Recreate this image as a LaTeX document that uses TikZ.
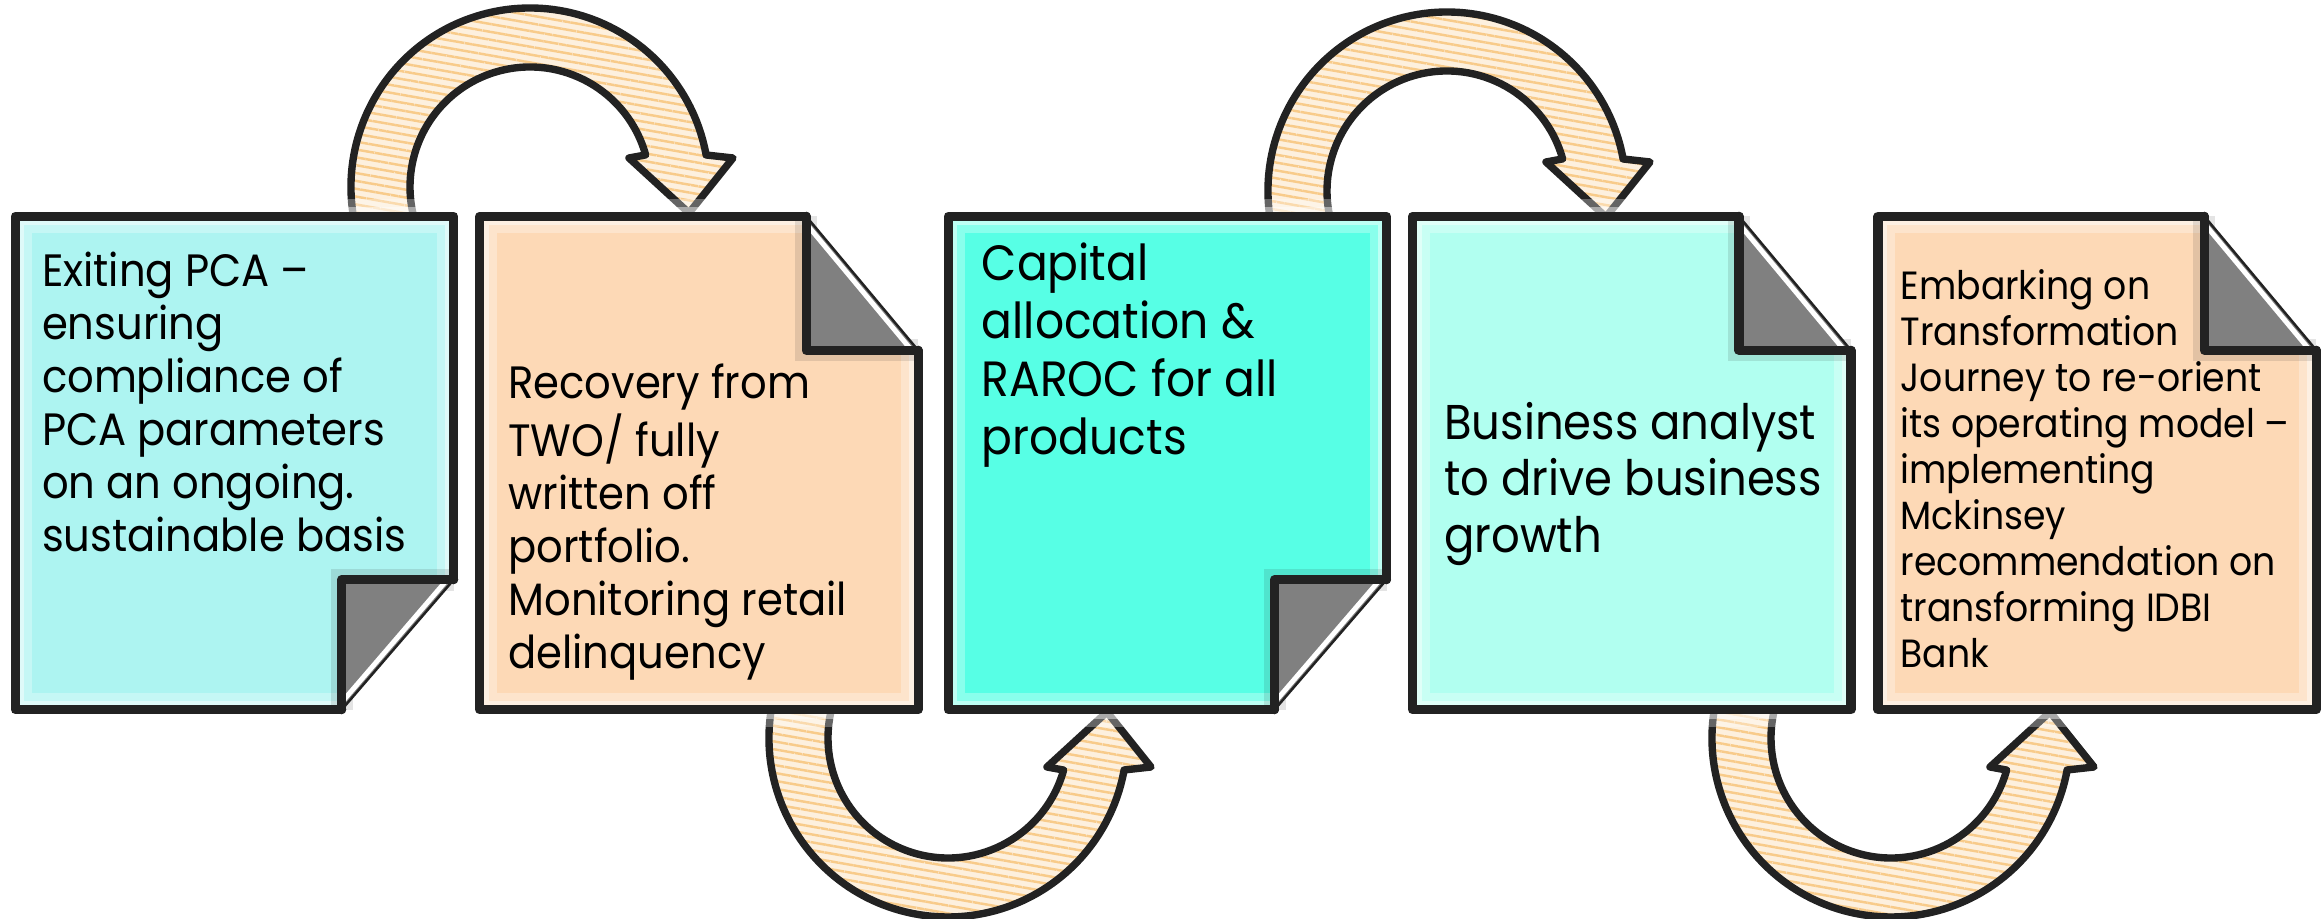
\documentclass[tikz,border=0pt]{standalone}
\usepackage{fontspec}
\setmainfont{Poppins}[FakeStretch=0.92]
\usetikzlibrary{positioning,calc,patterns.meta}

\definecolor{ink}{HTML}{222222}
\definecolor{skyfill}{HTML}{ADF4F1}
\definecolor{peachfill}{HTML}{FDD9B6}
\definecolor{aquafill}{HTML}{57FFE5}
\definecolor{mintfill}{HTML}{B1FFF0}
\definecolor{foldgray}{HTML}{808080}
\definecolor{hatch}{HTML}{F8CB8A}
\definecolor{hatchbg}{HTML}{FDF0DE}

\tikzset{
  note/.style={rectangle, minimum width=4.37cm, minimum height=4.92cm, inner sep=0},
  edge/.style={draw=ink, line width=2.6pt, line join=round, line cap=round},
  txt/.style={align=left, inner sep=0, anchor=west, text=black},
  arrowbody/.style={draw=ink, line width=2.1pt, line join=round,
    preaction={fill=hatchbg},
    pattern={Lines[angle=-10,distance=2.2pt,line width=0.7pt]}, pattern color=hatch},
  looparrow/.pic={
    \path[arrowbody] (195:1.79) arc[start angle=195, end angle=10.3, radius=1.79]
      -- (2.03,0.29) -- (1.59,-0.26) -- (0.99,0.29) -- (15.5:1.20)
      arc[start angle=15.5, end angle=197, radius=1.20] -- cycle;
  }
}

\begin{document}
\begin{tikzpicture}
\useasboundingbox (0,0) rectangle (23.23,-9.19);

% curved arrows between the notes
\pic at (5.30,-1.87) {looparrow};
\pic[yscale=-1] at (9.48,-7.38) {looparrow};
\pic at (14.47,-1.91) {looparrow};
\pic[yscale=-1] at (18.91,-7.38) {looparrow};

% notes
\node[note, fill=skyfill] (b1) at (2.345,-4.63) {};
\node[note, fill=peachfill, right=0.26cm of b1] (b2) {};
\node[note, fill=aquafill, right=0.30cm of b2] (b3) {};
\node[note, fill=mintfill, right=0.26cm of b3] (b4) {};
\node[note, fill=peachfill, right=0.27cm of b4] (b5) {};

% soft edges
\foreach \b in {b1,b2,b3,b4,b5}{
  \draw[white, line width=0.34cm, opacity=0.3] (\b.south west) rectangle (\b.north east);
  \draw[white, line width=0.18cm, opacity=0.45] (\b.south west) rectangle (\b.north east);
}

% folded corner at the bottom
\foreach \b in {b1,b3}{
  \fill[white] (\b.south east) -- ++(-1.12,0) -- ++(1.12,1.30) -- cycle;
  \draw[ink, line width=0.22cm, opacity=0.12] ($(\b.south east)+(-1.12,0)$) -- ++(0,1.30) -- ++(1.12,0);
  \fill[foldgray] ($(\b.south east)+(-1.12,0)$) -- ++(0,1.30) -- ++(1.12,0) -- cycle;
  \draw[white, line width=1.4pt] ($(\b.south east)+(-1.14,0.05)$) -- ++(1.10,1.28);
  \draw[ink, line width=0.7pt] ($(\b.south east)+(-1.12,0)$) -- ++(1.12,1.30);
  \draw[edge] ($(\b.south east)+(-1.12,0)$) -- ++(0,1.30) -- ++(1.12,0);
  \draw[edge] ($(\b.south east)+(-1.12,0)$) -| (\b.north west) -| ($(\b.south east)+(0,1.30)$);
}

% folded corner at the top
\foreach \b in {b2,b4,b5}{
  \fill[white] (\b.north east) -- ++(-1.12,0) -- ++(1.12,-1.34) -- cycle;
  \draw[ink, line width=0.22cm, opacity=0.12] ($(\b.north east)+(-1.12,0)$) -- ++(0,-1.34) -- ++(1.12,0);
  \fill[foldgray] ($(\b.north east)+(-1.12,0)$) -- ++(0,-1.34) -- ++(1.12,0) -- cycle;
  \draw[white, line width=1.4pt] ($(\b.north east)+(-1.14,-0.05)$) -- ++(1.10,-1.32);
  \draw[ink, line width=0.7pt] ($(\b.north east)+(-1.12,0)$) -- ++(1.12,-1.34);
  \draw[edge] ($(\b.north east)+(-1.12,0)$) -- ++(0,-1.34) -- ++(1.12,0);
  \draw[edge] ($(\b.north east)+(0,-1.34)$) |- (\b.south west) |- ($(\b.north east)+(-1.12,0)$);
}

% texts
\node[txt, font=\fontsize{12.9}{15.1}\selectfont] (t1) at ($(b1.west)+(0.26,0.61)$)
  {Exiting PCA –\\ensuring\\compliance of\\PCA parameters\\on an ongoing.\\sustainable basis};
\node[txt, font=\fontsize{12.9}{15.1}\selectfont] (t2) at ($(b2.west)+(0.28,-0.59)$)
  {Recovery from\\TWO/ fully\\written off\\portfolio.\\Monitoring retail\\delinquency};
\node[txt, font=\fontsize{14.1}{16.5}\selectfont] (t3) at ($(b3.west)+(0.33,1.08)$)
  {Capital\\allocation \&\\RAROC for all\\products};
\node[txt, font=\fontsize{13.9}{16.2}\selectfont] (t4) at ($(b4.west)+(0.31,-0.21)$)
  {Business analyst\\to drive business\\growth};
\node[txt, font=\fontsize{11.2}{13.1}\selectfont] (t5) at ($(b5.west)+(0.22,-0.06)$)
  {Embarking on\\Transformation\\Journey to re-orient\\its operating model –\\implementing\\Mckinsey\\recommendation on\\transforming IDBI\\Bank};
\end{tikzpicture}
\end{document}
